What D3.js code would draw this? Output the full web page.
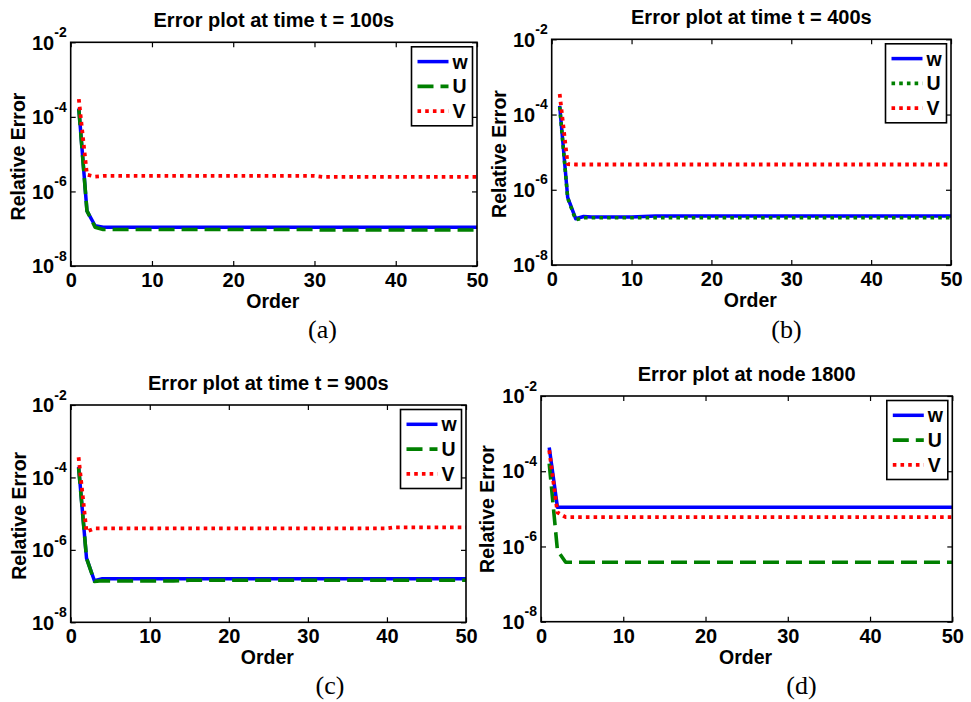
<!DOCTYPE html>
<html><head><meta charset="utf-8">
<script src="https://cdn.jsdelivr.net/npm/d3@7"></script>
<style>
body{margin:0;background:#fff}
svg{display:block}
</style>
</head><body>
<svg id="c" width="971" height="702"></svg>
<script>
// ---------------- DATA ----------------
const orders = [1, 2, 3, 4, 5, 10, 13, 15, 20, 25, 30, 31, 35, 40, 41, 45, 50];
const seriesNames = ["w", "U", "V"];
const xTicks = [0, 10, 20, 30, 40, 50];
const yTickExponents = [-8, -6, -4, -2];
const titles = ["Error plot at time t = 100s", "Error plot at time t = 400s",
                "Error plot at time t = 900s", "Error plot at node 1800"];
const panelTags = ["(a)", "(b)", "(c)", "(d)"];
const xLabel = "Order";
const yLabel = "Relative Error";

// panel (a) t = 100s
const a_w = [1.7e-4, 3.0e-7, 1.2e-7, 1.1e-7, 1.1e-7, 1.1e-7, 1.1e-7, 1.1e-7, 1.1e-7, 1.1e-7, 1.1e-7, 1.1e-7, 1.1e-7, 1.1e-7, 1.1e-7, 1.1e-7, 1.1e-7];
const a_U = [1.6e-4, 3.0e-7, 1.1e-7, 9.5e-8, 9.5e-8, 9.5e-8, 9.5e-8, 9.5e-8, 9.5e-8, 9.5e-8, 9.5e-8, 9.2e-8, 9.2e-8, 9.2e-8, 9.2e-8, 9.2e-8, 9.2e-8];
const a_V = [3.0e-4, 2.8e-6, 2.5e-6, 2.6e-6, 2.6e-6, 2.6e-6, 2.6e-6, 2.6e-6, 2.6e-6, 2.6e-6, 2.6e-6, 2.45e-6, 2.45e-6, 2.45e-6, 2.45e-6, 2.45e-6, 2.45e-6];
// panel (b) t = 400s
const b_w = [1.7e-4, 6.3e-7, 1.7e-7, 1.95e-7, 1.9e-7, 1.9e-7, 2.0e-7, 2.0e-7, 2.0e-7, 2.0e-7, 2.0e-7, 2.0e-7, 2.0e-7, 2.0e-7, 2.0e-7, 2.0e-7, 2.0e-7];
const b_U = [1.6e-4, 6.0e-7, 1.6e-7, 1.8e-7, 1.8e-7, 1.8e-7, 1.8e-7, 1.8e-7, 1.8e-7, 1.8e-7, 1.8e-7, 1.8e-7, 1.8e-7, 1.8e-7, 1.8e-7, 1.8e-7, 1.8e-7];
const b_V = [3.5e-4, 4.8e-6, 4.7e-6, 4.7e-6, 4.7e-6, 4.7e-6, 4.7e-6, 4.7e-6, 4.7e-6, 4.7e-6, 4.7e-6, 4.7e-6, 4.7e-6, 4.7e-6, 4.7e-6, 4.7e-6, 4.7e-6];
// panel (c) t = 900s
const c_w = [1.95e-4, 5.9e-7, 1.4e-7, 1.6e-7, 1.6e-7, 1.6e-7, 1.6e-7, 1.6e-7, 1.6e-7, 1.6e-7, 1.6e-7, 1.6e-7, 1.6e-7, 1.6e-7, 1.6e-7, 1.6e-7, 1.6e-7];
const c_U = [1.85e-4, 5.9e-7, 1.35e-7, 1.4e-7, 1.38e-7, 1.38e-7, 1.38e-7, 1.45e-7, 1.45e-7, 1.45e-7, 1.45e-7, 1.45e-7, 1.45e-7, 1.45e-7, 1.45e-7, 1.45e-7, 1.45e-7];
const c_V = [3.6e-4, 3.2e-6, 3.9e-6, 3.9e-6, 3.9e-6, 3.9e-6, 3.9e-6, 3.9e-6, 3.9e-6, 3.9e-6, 3.9e-6, 3.9e-6, 3.9e-6, 3.9e-6, 4.2e-6, 4.2e-6, 4.2e-6];
// panel (d) node 1800
const d_w = [4.3e-4, 1.1e-5, 1.1e-5, 1.1e-5, 1.1e-5, 1.1e-5, 1.1e-5, 1.1e-5, 1.1e-5, 1.1e-5, 1.1e-5, 1.1e-5, 1.1e-5, 1.1e-5, 1.1e-5, 1.1e-5, 1.1e-5];
const d_U = [1.6e-4, 7.8e-7, 3.8e-7, 3.8e-7, 3.8e-7, 3.8e-7, 3.8e-7, 3.8e-7, 3.8e-7, 3.8e-7, 3.8e-7, 3.8e-7, 3.8e-7, 3.8e-7, 3.8e-7, 3.8e-7, 3.8e-7];
const d_V = [3.6e-4, 8.0e-6, 6.0e-6, 6.0e-6, 6.0e-6, 6.0e-6, 6.0e-6, 6.0e-6, 6.0e-6, 6.0e-6, 6.0e-6, 6.0e-6, 6.0e-6, 6.0e-6, 6.0e-6, 6.0e-6, 6.0e-6];

const panelSeries = [[a_w, a_U, a_V], [b_w, b_U, b_V], [c_w, c_U, c_V], [d_w, d_U, d_V]];

// ---------------- LAYOUT / STYLE ----------------
const layout = [
  {l: 70.7, r: 477,   t: 42.3, b: 266,   ylx: 24.5, yly: 156.5, tagx: 322.5, tagy: 338,   uStyle: "dash"},
  {l: 551.7, r: 951,  t: 39.3, b: 265,   ylx: 506,  yly: 154,   tagx: 786.5, tagy: 338,   uStyle: "dot"},
  {l: 70.7, r: 466,   t: 405,  b: 622.3, ylx: 25.5, yly: 515.8, tagx: 330,   tagy: 693.5, uStyle: "dash"},
  {l: 541,  r: 952.3, t: 396,  b: 621.7, ylx: 494,  yly: 509,   tagx: 801.5, tagy: 693.5, uStyle: "dash"}
];
const SANS = "'Liberation Sans', Arial, Helvetica, sans-serif";
const SERIF = "'Liberation Serif', 'Times New Roman', serif";
const colors = ["#0000ff", "#008000", "#ff0000"];
const dashFor = {solid: null, dash: "16,7", dot: "3.6,4.1"};

const svg = d3.select("#c");
svg.append("rect").attr("width", 971).attr("height", 702).attr("fill", "#fff");

function styleFor(k, L) {
  if (k === 0) return {color: colors[0], dash: dashFor.solid, w: 3.5};
  if (k === 1) return {color: colors[1], dash: L.uStyle === "dot" ? dashFor.dot : dashFor.dash, w: 3.6};
  return {color: colors[2], dash: dashFor.dot, w: 3.8};
}

panelSeries.forEach((series, i) => {
  const L = layout[i];
  const x = d3.scaleLinear().domain([0, 50]).range([L.l, L.r]);
  const y = d3.scaleLog().domain([1e-8, 1e-2]).range([L.b, L.t]);
  const g = svg.append("g");

  // data lines
  const line = d3.line().x((d, j) => x(orders[j])).y(d => y(d));
  series.forEach((vals, k) => {
    const s = styleFor(k, L);
    g.append("path").attr("d", line(vals))
      .attr("fill", "none").attr("stroke", s.color).attr("stroke-width", s.w)
      .attr("stroke-dasharray", s.dash).attr("stroke-linejoin", "round");
  });

  // axes (inward ticks on all four sides)
  const yTicks = yTickExponents.map(e => Math.pow(10, e));
  const axB = g.append("g").attr("transform", `translate(0,${L.b})`)
    .call(d3.axisBottom(x).tickValues(xTicks).tickSizeInner(-5).tickSizeOuter(0).tickPadding(7));
  const axT = g.append("g").attr("transform", `translate(0,${L.t})`)
    .call(d3.axisTop(x).tickValues(xTicks).tickSizeInner(-5).tickSizeOuter(0).tickFormat(""));
  const axL = g.append("g").attr("transform", `translate(${L.l},0)`)
    .call(d3.axisLeft(y).tickValues(yTicks).tickSizeInner(-5).tickSizeOuter(0).tickFormat(""));
  const axR = g.append("g").attr("transform", `translate(${L.r},0)`)
    .call(d3.axisRight(y).tickValues(yTicks).tickSizeInner(-5).tickSizeOuter(0).tickFormat(""));
  [axB, axT, axL, axR].forEach(a => {
    a.select(".domain").remove();
    a.selectAll(".tick line").attr("stroke", "#000").attr("stroke-width", 1.2);
  });
  axB.selectAll(".tick text").attr("font-family", SANS).attr("font-size", 20)
    .attr("font-weight", "bold").attr("fill", "#000");

  // box
  g.append("rect").attr("x", L.l).attr("y", L.t).attr("width", L.r - L.l).attr("height", L.b - L.t)
    .attr("fill", "none").attr("stroke", "#000").attr("stroke-width", 1.6);

  // y tick labels 10^e
  yTickExponents.forEach(e => {
    const t = g.append("text").attr("x", L.l - 4).attr("y", y(Math.pow(10, e)) + 7.2)
      .attr("text-anchor", "end").attr("font-family", SANS).attr("font-weight", "bold")
      .attr("font-size", 20).attr("fill", "#000");
    t.append("tspan").text("10");
    t.append("tspan").attr("dy", -12.5).attr("font-size", 14).text(String(e));
  });

  // title
  g.append("text").attr("x", (L.l + L.r) / 2).attr("y", L.t - 15.5)
    .attr("text-anchor", "middle").attr("font-family", SANS).attr("font-weight", "bold")
    .attr("font-size", 20).attr("fill", "#000").text(titles[i]);

  // x label
  g.append("text").attr("x", (L.l + L.r) / 2 - 1).attr("y", L.b + 42)
    .attr("text-anchor", "middle").attr("font-family", SANS).attr("font-weight", "bold")
    .attr("font-size", 19.5).attr("fill", "#000").text(xLabel);

  // y label
  g.append("text").attr("transform", `translate(${L.ylx},${L.yly}) rotate(-90)`)
    .attr("text-anchor", "middle").attr("font-family", SANS).attr("font-weight", "bold")
    .attr("font-size", 19.5).attr("fill", "#000").text(yLabel);

  // panel tag
  g.append("text").attr("x", L.tagx).attr("y", L.tagy).attr("text-anchor", "middle")
    .attr("font-family", SERIF).attr("font-size", 26).attr("fill", "#000").text(panelTags[i]);

  // legend
  const bw = 61, bh = 79;
  const bx = L.r - 4.5 - bw, by = L.t + 4.5;
  const lg = g.append("g");
  lg.append("rect").attr("x", bx).attr("y", by).attr("width", bw).attr("height", bh)
    .attr("fill", "#fff").attr("stroke", "#000").attr("stroke-width", 1.6);
  seriesNames.forEach((nm, k) => {
    const s = styleFor(k, L);
    const ly = by + 14.8 + k * 24.8;
    lg.append("line").attr("x1", bx + 6).attr("x2", bx + 37).attr("y1", ly).attr("y2", ly)
      .attr("stroke", s.color).attr("stroke-width", s.w).attr("stroke-dasharray", s.dash);
    lg.append("text").attr("x", bx + 41).attr("y", ly + 7).attr("font-family", SANS)
      .attr("font-weight", "bold").attr("font-size", 19.5).attr("fill", "#000").text(nm);
  });
});
</script>
</body></html>
